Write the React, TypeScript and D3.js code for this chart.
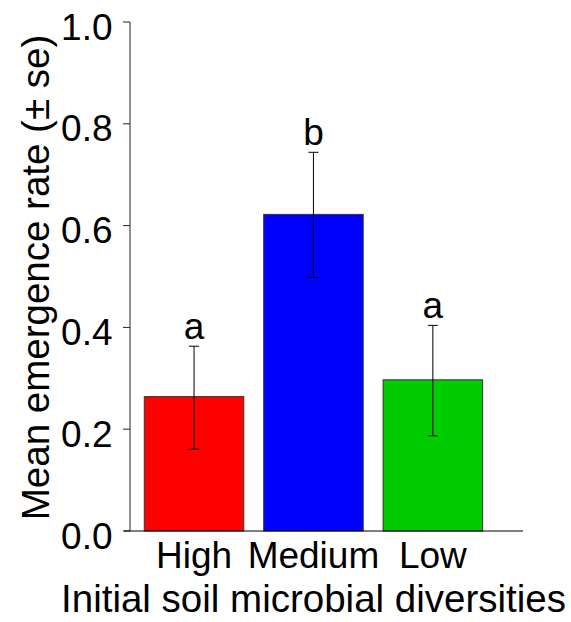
import React from "react";
import * as d3 from "d3";

const categories = ["High", "Medium", "Low"];
const means = [0.264, 0.622, 0.297];
const seUpper = [0.363, 0.744, 0.404];
const seLower = [0.161, 0.498, 0.187];
const letters = ["a", "b", "a"];
const colors = ["#ff0000", "#0000ff", "#00cc00"];
const yTicks = [0, 0.2, 0.4, 0.6, 0.8, 1.0];

const W = 571;
const H = 622;
const FONT = "'Liberation Sans', Arial, Helvetica, sans-serif";

export default function App() {
  const y = d3.scaleLinear().domain([0, 1]).range([531, 22]);
  const x = d3
    .scaleBand<string>()
    .domain(categories)
    .range([144.3, 482.6])
    .paddingInner(1 / 6)
    .paddingOuter(0);
  const axisX = 130;
  const bw = x.bandwidth();

  return (
    <svg
      width={W}
      height={H}
      style={{ position: "absolute", left: 0, top: 0, background: "#fff" }}
      fontFamily={FONT}
    >
      <rect x={0} y={0} width={W} height={H} fill="#fff" />
      {/* bars */}
      {categories.map((c, i) => (
        <rect
          key={c}
          x={x(c)}
          y={y(means[i])}
          width={bw}
          height={y(0) - y(means[i])}
          fill={colors[i]}
          stroke="#333"
          strokeWidth={1}
        />
      ))}
      {/* error bars */}
      {categories.map((c, i) => {
        const cx = (x(c) as number) + bw / 2;
        return (
          <g key={"e" + c} stroke="#000" strokeWidth={1}>
            <line x1={cx} x2={cx} y1={y(seUpper[i])} y2={y(seLower[i])} />
            <line x1={cx - 5} x2={cx + 5} y1={y(seUpper[i])} y2={y(seUpper[i])} />
            <line x1={cx - 5} x2={cx + 5} y1={y(seLower[i])} y2={y(seLower[i])} />
          </g>
        );
      })}
      {/* letters */}
      {categories.map((c, i) => {
        const cx = (x(c) as number) + bw / 2;
        return (
          <text
            key={"l" + c}
            x={cx}
            y={y(seUpper[i]) - 7}
            textAnchor="middle"
            fontSize={37}
            fill="#000"
          >
            {letters[i]}
          </text>
        );
      })}
      {/* y axis */}
      <line x1={axisX} x2={axisX} y1={y(1)} y2={y(0)} stroke="#222" strokeWidth={1} />
      {yTicks.map((t) => (
        <g key={t}>
          <line x1={axisX - 7} x2={axisX} y1={y(t)} y2={y(t)} stroke="#222" strokeWidth={1} />
          <text x={112.5} y={y(t) + 17.5} textAnchor="end" fontSize={37} fill="#000">
            {t.toFixed(1)}
          </text>
        </g>
      ))}
      {/* baseline */}
      <line x1={124} x2={523} y1={y(0)} y2={y(0)} stroke="#000" strokeWidth={1} />
      {/* x tick labels */}
      {categories.map((c) => (
        <text
          key={"t" + c}
          x={(x(c) as number) + bw / 2}
          y={568}
          textAnchor="middle"
          fontSize={37}
          fill="#000"
        >
          {c}
        </text>
      ))}
      {/* x title */}
      <text x={313.5} y={612} textAnchor="middle" fontSize={38.5} fill="#000">
        Initial soil microbial diversities
      </text>
      {/* y title */}
      <text
        transform={`translate(48.5, ${(y(0) + y(1)) / 2 + 1}) rotate(-90)`}
        textAnchor="middle"
        fontSize={38.5}
        fill="#000"
      >
        Mean emergence rate (± se)
      </text>
    </svg>
  );
}
